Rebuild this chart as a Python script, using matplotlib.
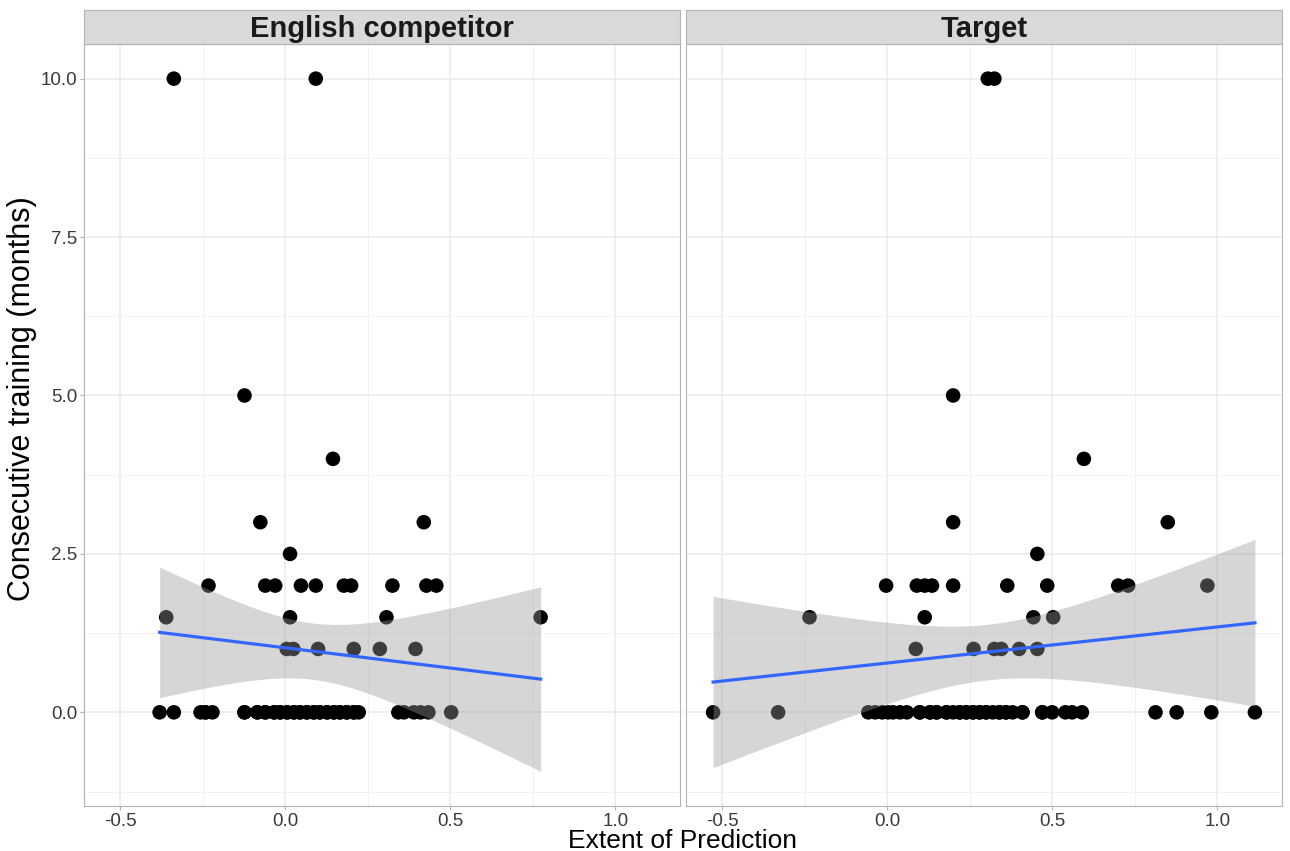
import numpy as np
import matplotlib
matplotlib.use("Agg")
import matplotlib.pyplot as plt
from matplotlib.ticker import MultipleLocator

plt.rcParams['font.family'] = ['Liberation Sans', 'DejaVu Sans']

# English competitor panel: extent of prediction vs months of training
# (zero-month rows contain repeated x values that overlap exactly)
ec_zero_x = [-0.380, -0.337, -0.256, -0.241, -0.220, -0.123, -0.084, -0.060, -0.033, -0.015,
             0.006, 0.027, 0.045, 0.066, 0.087, 0.105, 0.127, 0.148, 0.166, 0.187,
             0.208, 0.223, 0.343, 0.360, 0.390, 0.410, 0.434, 0.503,
             -0.241, -0.123, -0.084, -0.060, -0.033, -0.015, 0.006, 0.027, 0.045,
             0.066, 0.087, 0.105, 0.127, 0.148, 0.166, 0.187, 0.208]
ec_x = ec_zero_x + \
       [-0.337, 0.093, -0.123, 0.145, -0.075, 0.420, 0.015,
        -0.232, -0.060, -0.030, 0.048, 0.093, 0.178, 0.200, 0.325, 0.428, 0.458,
        -0.360, 0.015, 0.307, 0.774,
        0.005, 0.025, 0.100, 0.208, 0.287, 0.395]
ec_y = [0] * len(ec_zero_x) + \
       [10, 10, 5, 4, 3, 3, 2.5,
        2, 2, 2, 2, 2, 2, 2, 2, 2, 2,
        1.5, 1.5, 1.5, 1.5,
        1, 1, 1, 1, 1, 1]

# Target panel
tg_zero_x = [-0.527, -0.330, -0.057, -0.036, -0.015, 0.003, 0.018, 0.039, 0.060, 0.099,
             0.130, 0.150, 0.180, 0.200, 0.220, 0.240, 0.260, 0.280, 0.300, 0.320,
             0.340, 0.360, 0.380, 0.410, 0.470, 0.500, 0.540, 0.560, 0.590, 0.813,
             0.877, 0.982, 1.114,
             0.099, 0.130, 0.150, 0.180, 0.220, 0.240, 0.260, 0.280, 0.300, 0.340,
             0.360, 0.410, 0.470]
tg_x = tg_zero_x + \
       [0.305, 0.325, 0.200, 0.596, 0.200, 0.850, 0.455,
        -0.003, 0.090, 0.114, 0.136, 0.200, 0.364, 0.485, 0.700, 0.730, 0.970,
        -0.235, 0.114, 0.443, 0.503,
        0.087, 0.262, 0.325, 0.346, 0.400, 0.455]
tg_y = [0] * len(tg_zero_x) + \
       [10, 10, 5, 4, 3, 3, 2.5,
        2, 2, 2, 2, 2, 2, 2, 2, 2, 2,
        1.5, 1.5, 1.5, 1.5,
        1, 1, 1, 1, 1, 1]

panels = [("English competitor", ec_x, ec_y), ("Target", tg_x, tg_y)]


def lm_band(x, y, t_crit=1.99, n_grid=80):
    # straight-line fit with 95% confidence band, like geom_smooth(method='lm')
    x = np.asarray(x, float)
    y = np.asarray(y, float)
    n = len(x)
    slope, icept = np.polyfit(x, y, 1)
    resid = y - (icept + slope * x)
    s = np.sqrt(np.sum(resid ** 2) / (n - 2))
    sxx = np.sum((x - x.mean()) ** 2)
    xs = np.linspace(x.min(), x.max(), n_grid)
    fit = icept + slope * xs
    se = s * np.sqrt(1.0 / n + (xs - x.mean()) ** 2 / sxx)
    return xs, fit, fit - t_crit * se, fit + t_crit * se


fits = [lm_band(px, py) for _, px, py in panels]

# shared scales with 5% padding
all_x = ec_x + tg_x
xmin, xmax = min(all_x), max(all_x)
xpad = 0.05 * (xmax - xmin)
ylo = min(min(f[2]) for f in fits)
yhi = max(max(ec_y), max(tg_y))
ypad = 0.05 * (yhi - ylo)

fig = plt.figure(figsize=(12.9, 8.51), dpi=100)

lefts = [84 / 1290, 686 / 1290]
width = 596 / 1290
bottom = 1 - 806 / 851
height = (806 - 44) / 851
strip_h = 34 / 851

grid_col = '#ebebeb'
for i, (name, px, py) in enumerate(panels):
    ax = fig.add_axes([lefts[i], bottom, width, height])
    ax.set_facecolor('white')
    ax.set_xlim(xmin - xpad, xmax + xpad)
    ax.set_ylim(ylo - ypad, yhi + ypad)

    ax.xaxis.set_major_locator(MultipleLocator(0.5))
    ax.xaxis.set_minor_locator(MultipleLocator(0.25))
    ax.yaxis.set_major_locator(MultipleLocator(2.5))
    ax.yaxis.set_minor_locator(MultipleLocator(1.25))
    ax.grid(True, which='major', color=grid_col, lw=1.1)
    ax.grid(True, which='minor', color='#f2f2f2', lw=0.7)
    ax.set_axisbelow(True)

    ax.scatter(px, py, s=110, color='black', edgecolors='none', zorder=2)
    xs, fit, lo, hi = fits[i]
    ax.fill_between(xs, lo, hi, color='#999999', alpha=0.4, lw=0, zorder=3)
    ax.plot(xs, fit, color='#3366FF', lw=2.3, zorder=4)

    for sp in ax.spines.values():
        sp.set_color('#b3b3b3')
        sp.set_linewidth(0.8)

    ax.tick_params(which='major', length=3, color='#b3b3b3', labelsize=13.5,
                   labelcolor='#3a3a3a', pad=2)
    ax.tick_params(which='minor', length=0)
    ax.xaxis.set_major_formatter(plt.FuncFormatter(lambda v, p: f"{v:.1f}"))
    ax.yaxis.set_major_formatter(plt.FuncFormatter(lambda v, p: f"{v:.1f}"))
    if i == 0:
        ax.set_ylabel('Consecutive training (months)', fontsize=22)
        ax.yaxis.set_label_coords(-47 / 596, 0.535)
    else:
        ax.tick_params(axis='y', which='both', left=False, labelleft=False)

    # facet strip
    st = fig.add_axes([lefts[i], bottom + height, width, strip_h])
    st.set_facecolor('#d9d9d9')
    st.set_xticks([])
    st.set_yticks([])
    for sp in st.spines.values():
        sp.set_color('#b3b3b3')
        sp.set_linewidth(0.8)
    st.text(0.5, 0.45, name, ha='center', va='center', fontsize=21,
            fontweight='bold', color='#1a1a1a', transform=st.transAxes)

fig.text((84 + 1282) / 2 / 1290, 1 - 848 / 851, 'Extent of Prediction',
         ha='center', va='baseline', fontsize=19)

fig.savefig('out.png', dpi=100, facecolor='white')
